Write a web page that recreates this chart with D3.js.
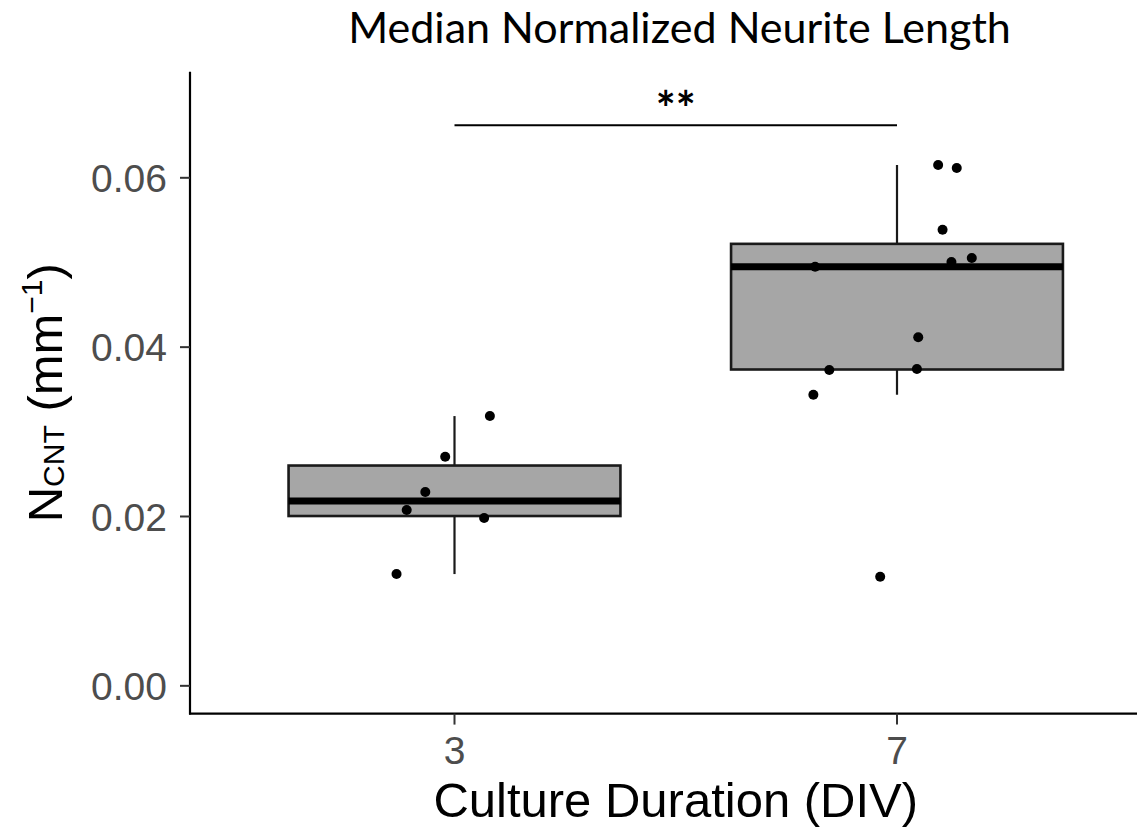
<!DOCTYPE html>
<html>
<head>
<meta charset="utf-8">
<script src="https://cdn.jsdelivr.net/npm/d3@7"></script>
<style>
  html, body { margin: 0; padding: 0; background: #ffffff; }
  svg { display: block; }
</style>
</head>
<body>
<svg id="chart" width="1137" height="829"></svg>
<script>
// ---- data ----
const categories = ["3", "7"];
const div3Values = [0.01320, 0.02076, 0.02289, 0.02706, 0.01982, 0.03186];
const div3Jitter = [-0.131, -0.108, -0.066, -0.021, 0.067, 0.080];
const div7Values = [0.06151, 0.06116, 0.05387, 0.05053, 0.05006, 0.04950, 0.04116, 0.03742, 0.03730, 0.03438, 0.01289];
const div7Jitter = [0.093, 0.135, 0.103, 0.169, 0.123, -0.185, 0.048, 0.045, -0.153, -0.189, -0.038];
const yTicks = [0.00, 0.02, 0.04, 0.06];
const yTickLabels = ["0.00", "0.02", "0.04", "0.06"];
const sigLabel = "**";
const sigValue = 0.0662;
const titleText = "Median Normalized Neurite Length";
const xTitleText = "Culture Duration (DIV)";

const groups = [
  { cat: categories[0], values: div3Values, jitter: div3Jitter },
  { cat: categories[1], values: div7Values, jitter: div7Jitter }
];

// ---- layout ----
const panel = { left: 189, right: 1162.5, top: 71.8, bottom: 713.6 };
const svg = d3.select("#chart");

const x = d3.scalePoint().domain(categories).range([panel.left, panel.right]).padding(0.6);
const y = d3.scaleLinear().domain([-0.00328, 0.07252]).range([panel.bottom, panel.top]);
const step = x.step();
const halfW = 0.375 * step;

function stats(vals) {
  const s = vals.slice().sort(d3.ascending);
  const q1 = d3.quantile(s, 0.25), med = d3.quantile(s, 0.5), q3 = d3.quantile(s, 0.75);
  const iqr = q3 - q1;
  const lo = d3.min(s.filter(v => v >= q1 - 1.5 * iqr));
  const hi = d3.max(s.filter(v => v <= q3 + 1.5 * iqr));
  return { q1, med, q3, lo, hi };
}

const boxColor = "#1a1a1a";

// boxes
groups.forEach(g => {
  const st = stats(g.values);
  const cx = x(g.cat);
  const G = svg.append("g");
  G.append("line").attr("x1", cx).attr("x2", cx).attr("y1", y(st.q3)).attr("y2", y(st.hi))
    .attr("stroke", boxColor).attr("stroke-width", 2.2);
  G.append("line").attr("x1", cx).attr("x2", cx).attr("y1", y(st.q1)).attr("y2", y(st.lo))
    .attr("stroke", boxColor).attr("stroke-width", 2.2);
  G.append("rect").attr("x", cx - halfW).attr("width", 2 * halfW)
    .attr("y", y(st.q3)).attr("height", y(st.q1) - y(st.q3))
    .attr("fill", "#a6a6a6").attr("stroke", boxColor).attr("stroke-width", 2.6);
  G.append("line").attr("x1", cx - halfW).attr("x2", cx + halfW).attr("y1", y(st.med)).attr("y2", y(st.med))
    .attr("stroke", "#000").attr("stroke-width", 7);
});

// points
groups.forEach(g => {
  svg.append("g").selectAll("circle").data(g.values).join("circle")
    .attr("cx", (d, i) => x(g.cat) + g.jitter[i] * step)
    .attr("cy", d => y(d))
    .attr("r", 5)
    .attr("fill", "#000");
});

// axes
const axisG = svg.append("g");
axisG.append("line").attr("x1", 190).attr("x2", 190).attr("y1", panel.top).attr("y2", panel.bottom + 1)
  .attr("stroke", "#000").attr("stroke-width", 2.2);
axisG.append("line").attr("x1", 189).attr("x2", panel.right).attr("y1", panel.bottom).attr("y2", panel.bottom)
  .attr("stroke", "#000").attr("stroke-width", 2.2);

const yt = axisG.append("g").selectAll("g").data(yTicks).join("g");
yt.append("line").attr("x1", 180).attr("x2", 190).attr("y1", d => y(d)).attr("y2", d => y(d))
  .attr("stroke", "#333").attr("stroke-width", 2);
yt.append("text").attr("x", 167).attr("y", d => y(d)).attr("dy", "0.36em")
  .attr("text-anchor", "end")
  .attr("font-family", "Liberation Sans, Arial, sans-serif").attr("font-size", 39)
  .attr("fill", "#4d4d4d").text((d, i) => yTickLabels[i]);

const xt = axisG.append("g").selectAll("g").data(categories).join("g");
xt.append("line").attr("x1", d => x(d)).attr("x2", d => x(d)).attr("y1", panel.bottom).attr("y2", panel.bottom + 11)
  .attr("stroke", "#333").attr("stroke-width", 2);
xt.append("text").attr("x", d => x(d)).attr("y", 764)
  .attr("text-anchor", "middle")
  .attr("font-family", "Liberation Sans, Arial, sans-serif").attr("font-size", 39)
  .attr("fill", "#4d4d4d").text(d => d);

// axis titles
svg.append("text").attr("x", (panel.left + panel.right) / 2).attr("y", 817)
  .attr("text-anchor", "middle")
  .attr("font-family", "Liberation Sans, Arial, sans-serif").attr("font-size", 49)
  .attr("fill", "#000").text(xTitleText);

const yl = svg.append("text")
  .attr("transform", `translate(62, ${(panel.top + panel.bottom) / 2}) rotate(-90)`)
  .attr("text-anchor", "middle")
  .attr("font-family", "Liberation Sans, Arial, sans-serif").attr("font-size", 49)
  .attr("fill", "#000");
yl.append("tspan").text("N");
yl.append("tspan").attr("font-size", 30).attr("dy", 2).text("CNT");
yl.append("tspan").attr("dy", -2).text(" (mm");
yl.append("tspan").attr("font-size", 30).attr("dy", -20).text("\u22121");
yl.append("tspan").attr("dy", 20).text(")");

// significance bar
svg.append("line").attr("x1", x(categories[0])).attr("x2", x(categories[1]))
  .attr("y1", y(sigValue)).attr("y2", y(sigValue))
  .attr("stroke", "#000").attr("stroke-width", 2);
svg.append("text").attr("x", (x(categories[0]) + x(categories[1])) / 2).attr("y", 126)
  .attr("text-anchor", "middle")
  .attr("font-family", "Lato, Open Sans, sans-serif").attr("font-size", 47).attr("font-weight", 700)
  .attr("fill", "#000").text(sigLabel);

// title
const title = svg.append("text").attr("x", 679.5).attr("y", 43)
  .attr("text-anchor", "middle")
  .attr("font-family", "Lato, Open Sans, sans-serif").attr("font-size", 40)
  .attr("fill", "#000").text(titleText);
const tw = title.node().getComputedTextLength();
title.attr("font-size", 40 * 663 / tw);
</script>
</body>
</html>
